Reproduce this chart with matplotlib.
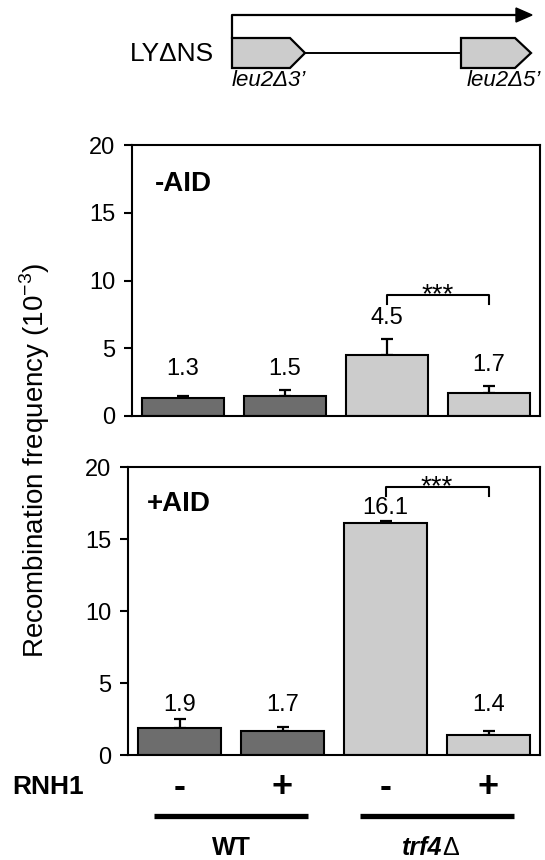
import numpy as np
import matplotlib
matplotlib.use("Agg")
import matplotlib.pyplot as plt
from matplotlib.patches import Polygon
from matplotlib.transforms import blended_transform_factory

plt.rcParams['font.family'] = ['Liberation Sans', 'DejaVu Sans']
plt.rcParams['mathtext.fontset'] = 'custom'
plt.rcParams['mathtext.rm'] = 'Liberation Sans'

# data
strains = ["WT", "WT", "trf4", "trf4"]
rnh1 = ["-", "+", "-", "+"]
minus_aid = [1.3, 1.5, 4.5, 1.7]
minus_aid_err = [0.2, 0.4, 1.15, 0.5]
plus_aid = [1.9, 1.7, 16.1, 1.4]
plus_aid_err = [0.6, 0.27, 0.15, 0.27]
colors = ["#6d6d6d", "#6d6d6d", "#cccccc", "#cccccc"]
sig_pair = (2, 3)

W, H = 545, 860
fig = plt.figure(figsize=(W / 100, H / 100), dpi=100)

# overlay in pixel coords for diagram and annotations
ov = fig.add_axes([0, 0, 1, 1], zorder=5)
ov.set_xlim(0, W)
ov.set_ylim(H, 0)
ov.axis("off")
ov.patch.set_alpha(0)


def panel(rect, vals, errs, tag, tag_xy, sig_y, off):
    ax = fig.add_axes(rect)
    x = np.arange(len(vals))
    ax.bar(x, vals, width=0.8, color=colors, edgecolor="black", linewidth=1.5, zorder=2)
    ax.errorbar(x, vals, yerr=[np.zeros(len(vals)), errs], fmt="none",
                ecolor="black", elinewidth=1.6, capsize=4, capthick=1.6, zorder=1)
    for xi, v, e in zip(x, vals, errs):
        ax.text(xi, max(v + e + off, 3.5), f"{v:.1f}", ha="center", va="center", fontsize=17)
    a, b = sig_pair
    ax.plot([a, a, b, b], [sig_y - 0.6, sig_y, sig_y, sig_y - 0.6], color="black", lw=1.5)
    ax.text((a + b) / 2, sig_y - 0.5, "***", ha="center", va="baseline", fontsize=20)
    ax.text(tag_xy[0], tag_xy[1], tag, transform=ax.transAxes, fontsize=20,
            fontweight="bold", ha="left", va="center")
    ax.set_xlim(-0.5, 3.5)
    ax.set_ylim(0, 20)
    ax.set_yticks([0, 5, 10, 15, 20])
    ax.set_xticks([])
    ax.tick_params(axis="y", direction="out", length=6, width=1.5, labelsize=17, pad=6)
    for s in ax.spines.values():
        s.set_linewidth(1.5)
    return ax


ax1 = panel([132 / W, 1 - 416 / H, 408 / W, 271 / H], minus_aid, minus_aid_err,
            "-AID", (0.055, 0.855), 8.9, 1.6)
ax2 = panel([128 / W, 1 - 755 / H, 412 / W, 288 / H], plus_aid, plus_aid_err,
            "+AID", (0.045, 0.87), 18.6, 0.9)

fig.text(35 / W, 1 - 460 / H, r"Recombination frequency (10$^{-3}$)", rotation=90,
         ha="center", va="center", fontsize=20)

# RNH1 row and strain bars
tr = blended_transform_factory(ax2.transData, ov.transData)
ov.text(12, 787, "RNH1", fontsize=19, fontweight="bold", ha="left", va="center")
for xi, sign in enumerate(rnh1):
    ov.text(xi, 787, sign, transform=tr, fontsize=26, fontweight="bold", ha="center", va="center")
groups = [("WT", 0, 1, "normal"), ("trf4\u0394", 2, 3, "italic")]
for name, a, b, style in groups:
    ov.plot([a - 0.25, b + 0.25], [816, 816], transform=tr, color="black", lw=3.8,
            solid_capstyle="butt")
    if style == "italic":
        ov.text((a + b) / 2 + 0.05, 848, "trf4", transform=tr, fontsize=18, fontweight="bold",
                style="italic", ha="right", va="center")
        ov.text((a + b) / 2 + 0.05, 848, "\u0394", transform=tr, fontsize=18, ha="left", va="center")
    else:
        ov.text((a + b) / 2, 848, name, transform=tr, fontsize=18, fontweight="bold",
                ha="center", va="center")

# construct diagram
ov.plot([232, 232, 518], [38, 15, 15], color="black", lw=1.6)
ov.add_patch(Polygon([[516, 8], [532, 15], [516, 22]], closed=True, color="black"))
ov.plot([305, 461], [53, 53], color="black", lw=1.4)
for x0, x1, x2 in [(232, 290, 305), (461, 515, 531)]:
    ov.add_patch(Polygon([[x0, 38], [x1, 38], [x2, 53], [x1, 68], [x0, 68]], closed=True,
                         facecolor="#cccccc", edgecolor="black", lw=1.6))
ov.text(214, 54, "LY\u0394NS", fontsize=19, ha="right", va="center")
ov.text(232, 81, "leu2\u03943\u2019", fontsize=16, style="italic", ha="left", va="center")
ov.text(467, 81, "leu2\u03945\u2019", fontsize=16, style="italic", ha="left", va="center")

fig.savefig("out.png", dpi=100)
